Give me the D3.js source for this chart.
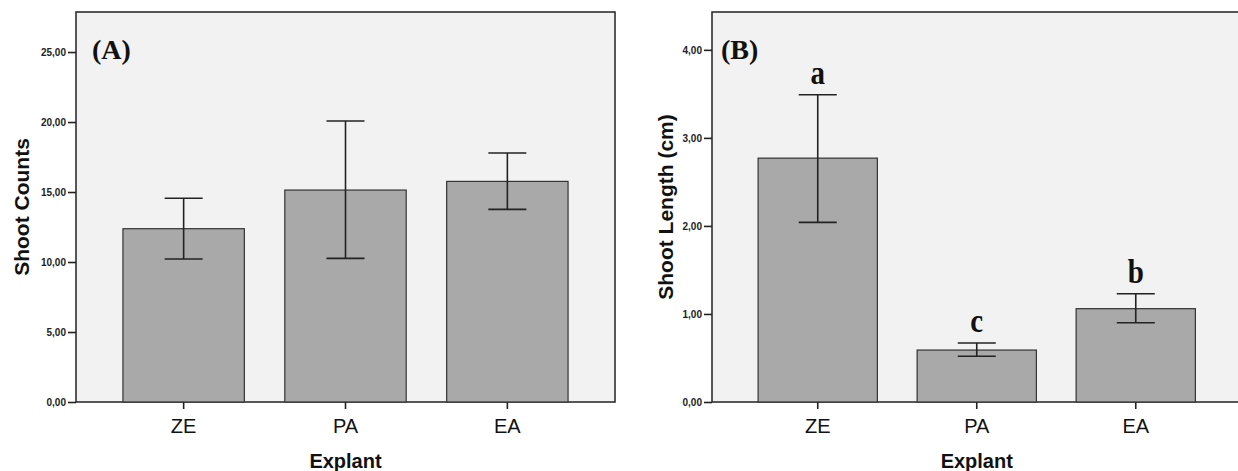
<!DOCTYPE html>
<html>
<head>
<meta charset="utf-8">
<script src="https://d3js.org/d3.v7.min.js"></script>
<style>
body, html {
  margin: 0;
  padding: 0;
  background: #fff;
  font-family: "Liberation Sans", Arial, sans-serif;
}
.frame { fill: #f2f2f2; stroke: #222; stroke-width: 1.5; }
.bar { fill: #a9a9a9; stroke: #333; stroke-width: 1.2; }
.err { stroke: #222; stroke-width: 1.6; fill: none; }
.yaxis text { font-size: 10px; font-weight: bold; fill: #222; }
.xaxis text { font-size: 20px; fill: #111; }
.axis path { display: none; }
.axis line { stroke: #222; stroke-width: 1.6; }
.xtitle, .ytitle { font-weight: bold; fill: #111; }
.panel-label, .letter { font-family: "Liberation Serif", "Times New Roman", serif; font-weight: bold; fill: #111; }
</style>
</head>
<body>
<div id="chart"></div>
<script>

var categories = ["ZE", "PA", "EA"];

// (A) shoot counts
var countMean = [12.38, 15.14, 15.76];
var countLow  = [10.21, 10.26, 13.76];
var countHigh = [14.55, 20.07, 17.79];
var countTicks = [0, 5, 10, 15, 20, 25];

// (B) shoot length
var lengthMean = [2.77, 0.59, 1.06];
var lengthLow  = [2.04, 0.52, 0.90];
var lengthHigh = [3.49, 0.67, 1.23];
var lengthLetters = ["a", "c", "b"];
var lengthTicks = [0, 1, 2, 3, 4];

var width = 1238, height = 471;

var svg = d3.select("#chart").append("svg")
  .attr("width", width)
  .attr("height", height);

var fmt = function(v) { return d3.format(".2f")(v).replace(".", ","); };

function drawPanel(opt) {
  var g = svg.append("g");

  var x = d3.scaleBand()
    .domain(categories)
    .range([opt.left, opt.right])
    .paddingInner(0.25)
    .paddingOuter(0.29);

  var y = d3.scaleLinear()
    .domain([0, opt.ymax])
    .range([opt.bottom, opt.top]);

  g.append("rect")
    .attr("class", "frame")
    .attr("x", opt.left)
    .attr("y", opt.top)
    .attr("width", opt.right - opt.left)
    .attr("height", opt.bottom - opt.top);

  g.selectAll("rect.bar")
    .data(opt.mean)
    .enter().append("rect")
    .attr("class", "bar")
    .attr("x", function(d, i) { return x(categories[i]); })
    .attr("y", function(d) { return y(d); })
    .attr("width", x.bandwidth())
    .attr("height", function(d) { return y(0) - y(d); });

  // error bars
  var cap = 19;
  var cx = function(i) { return x(categories[i]) + x.bandwidth() / 2; };
  var eb = g.selectAll("g.eb")
    .data(opt.mean)
    .enter().append("g");
  eb.append("line").attr("class", "err")
    .attr("x1", function(d, i) { return cx(i); })
    .attr("x2", function(d, i) { return cx(i); })
    .attr("y1", function(d, i) { return y(opt.low[i]); })
    .attr("y2", function(d, i) { return y(opt.high[i]); });
  eb.append("line").attr("class", "err")
    .attr("x1", function(d, i) { return cx(i) - cap; })
    .attr("x2", function(d, i) { return cx(i) + cap; })
    .attr("y1", function(d, i) { return y(opt.high[i]); })
    .attr("y2", function(d, i) { return y(opt.high[i]); });
  eb.append("line").attr("class", "err")
    .attr("x1", function(d, i) { return cx(i) - cap; })
    .attr("x2", function(d, i) { return cx(i) + cap; })
    .attr("y1", function(d, i) { return y(opt.low[i]); })
    .attr("y2", function(d, i) { return y(opt.low[i]); });

  // axes
  g.append("g")
    .attr("class", "axis yaxis")
    .attr("transform", "translate(" + opt.left + ",0)")
    .call(d3.axisLeft(y).tickValues(opt.ticks).tickFormat(fmt).tickSize(8).tickSizeOuter(0).tickPadding(2));

  var xa = g.append("g")
    .attr("class", "axis xaxis")
    .attr("transform", "translate(0," + opt.bottom + ")")
    .call(d3.axisBottom(x).tickSize(7).tickSizeOuter(0));
  xa.selectAll("text").attr("y", 31).attr("dy", 0);

  g.append("text")
    .attr("class", "xtitle")
    .attr("x", cx(1))
    .attr("y", 468)
    .attr("text-anchor", "middle")
    .style("font-size", "20px")
    .text("Explant");

  g.append("text")
    .attr("class", "ytitle")
    .attr("transform", "translate(" + opt.ytitleX + "," + (opt.top + opt.bottom) / 2 + ") rotate(-90)")
    .attr("text-anchor", "middle")
    .style("font-size", "21px")
    .text(opt.ytitle);

  g.append("text")
    .attr("class", "panel-label")
    .attr("x", opt.labelX)
    .attr("y", 59)
    .style("font-size", "28px")
    .text(opt.label);

  if (opt.letters) {
    g.selectAll("text.letter")
      .data(opt.letters)
      .enter().append("text")
      .attr("class", "letter")
      .attr("text-anchor", "middle")
      .attr("transform", function(d, i) {
        return "translate(" + cx(i) + "," + (y(opt.high[i]) - 11) + ") scale(1,1.15)";
      })
      .style("font-size", "29px")
      .text(function(d) { return d; });
  }
}

drawPanel({
  left: 76, right: 615, top: 12, bottom: 402,
  ymax: 27.86, ticks: countTicks,
  mean: countMean, low: countLow, high: countHigh,
  ytitle: "Shoot Counts", ytitleX: 29,
  label: "(A)", labelX: 92
});

drawPanel({
  left: 712, right: 1241.5, top: 12, bottom: 402,
  ymax: 4.43, ticks: lengthTicks,
  mean: lengthMean, low: lengthLow, high: lengthHigh,
  letters: lengthLetters,
  ytitle: "Shoot Length (cm)", ytitleX: 673,
  label: "(B)", labelX: 721
});

</script>
</body>
</html>
